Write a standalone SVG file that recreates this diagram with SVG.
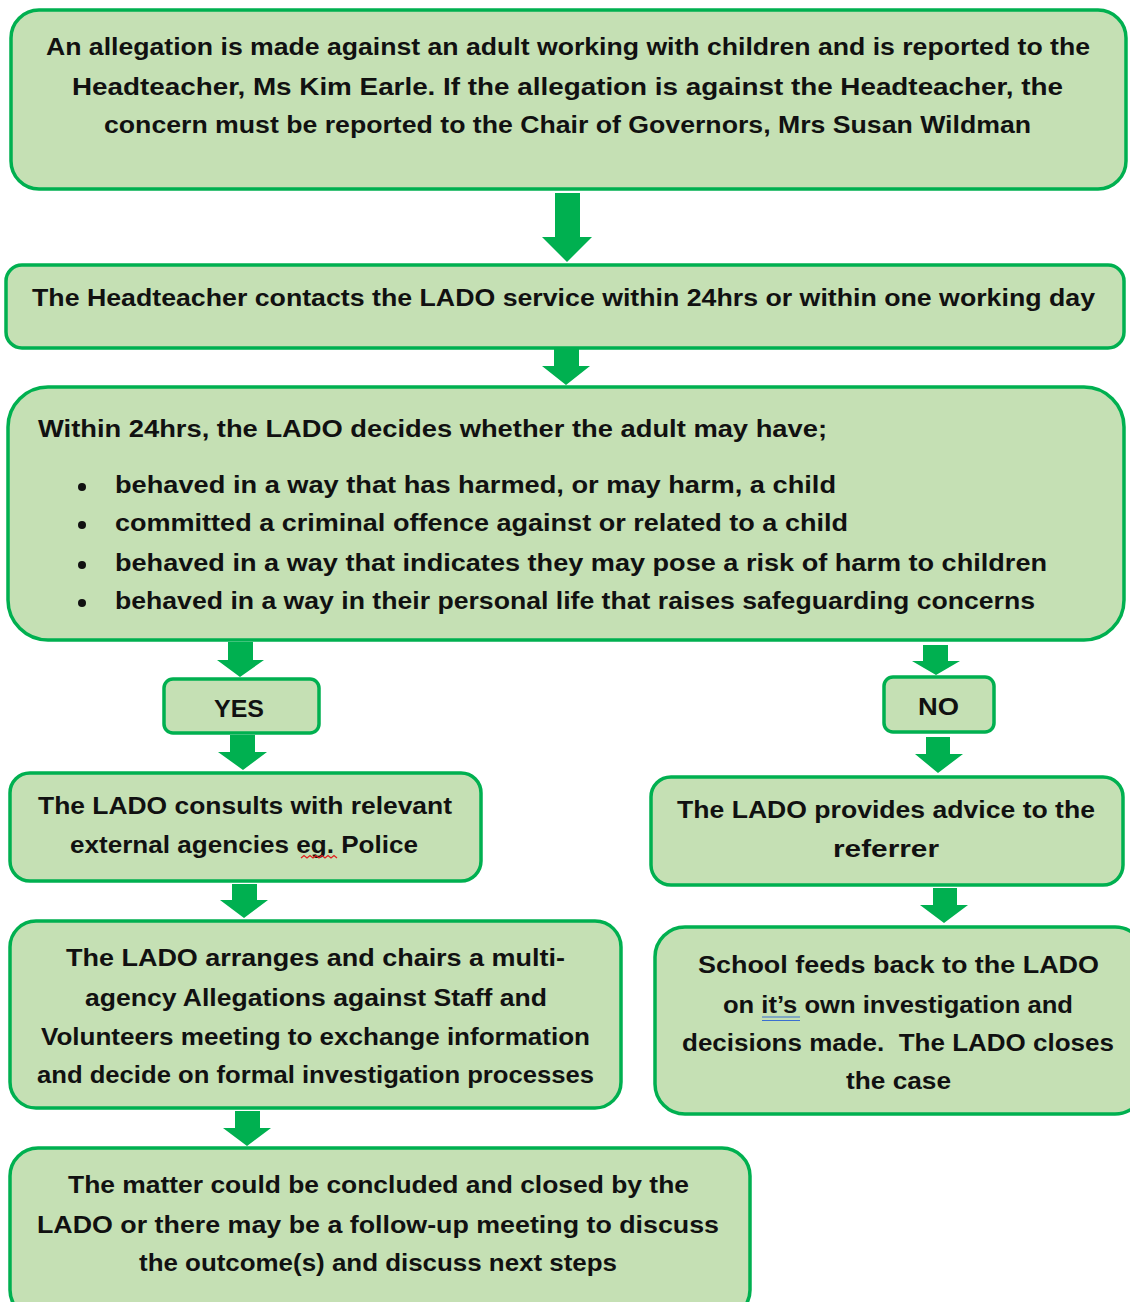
<svg xmlns="http://www.w3.org/2000/svg" width="1130" height="1302" viewBox="0 0 1130 1302">
<style>
.box{fill:#C5E0B4;stroke:#00B050;stroke-width:3.5}
.t{font-family:"Liberation Sans",Arial,sans-serif;font-size:23px;font-weight:bold;fill:#111}
.arr{fill:#00B050}
.dot{fill:#111}
</style>
<rect width="1130" height="1302" fill="#fff"/>
<g id="connectors">
<polygon class="arr" points="555,193 580,193 580,237 592,237 567,262 542,237 555,237"/>
<polygon class="arr" points="554,349 579,349 579,366 590,366 566,385 542,366 554,366"/>
<polygon class="arr" points="228,642 253,642 253,660 264,660 240,677 217,660 228,660"/>
<polygon class="arr" points="230,735 255,735 255,752 267,752 243,770 218,752 230,752"/>
<polygon class="arr" points="232,884 257,884 257,900 268,900 244,918 220,900 232,900"/>
<polygon class="arr" points="235,1111 260,1111 260,1128 271,1128 247,1146 223,1128 235,1128"/>
<polygon class="arr" points="923,645 948,645 948,661 960,661 936,675 912,661 923,661"/>
<polygon class="arr" points="926,737 950,737 950,754 963,754 938,773 915,754 926,754"/>
<polygon class="arr" points="933,888 957,888 957,905 968,905 944,923 920,905 933,905"/>
</g>
<g id="n1">
<rect class="box" x="11" y="10" width="1115" height="179" rx="28"/>
<text class="t" x="46" y="55" textLength="1044" lengthAdjust="spacingAndGlyphs">An allegation is made against an adult working with children and is reported to the</text>
<text class="t" x="72" y="95" textLength="991" lengthAdjust="spacingAndGlyphs">Headteacher, Ms Kim Earle. If the allegation is against the Headteacher, the</text>
<text class="t" x="104" y="133" textLength="927" lengthAdjust="spacingAndGlyphs">concern must be reported to the Chair of Governors, Mrs Susan Wildman</text>
</g>
<g id="n2">
<rect class="box" x="6" y="265" width="1118" height="83" rx="16"/>
<text class="t" x="32" y="306" textLength="1063" lengthAdjust="spacingAndGlyphs">The Headteacher contacts the LADO service within 24hrs or within one working day</text>
</g>
<g id="n3">
<rect class="box" x="8" y="387" width="1116" height="253" rx="40"/>
<text class="t" x="38" y="437" textLength="789" lengthAdjust="spacingAndGlyphs">Within 24hrs, the LADO decides whether the adult may have;</text>
<circle class="dot" cx="82" cy="487" r="4"/>
<circle class="dot" cx="82" cy="525" r="4"/>
<circle class="dot" cx="82" cy="565" r="4"/>
<circle class="dot" cx="82" cy="603" r="4"/>
<text class="t" x="115" y="493" textLength="721" lengthAdjust="spacingAndGlyphs">behaved in a way that has harmed, or may harm, a child</text>
<text class="t" x="115" y="531" textLength="733" lengthAdjust="spacingAndGlyphs">committed a criminal offence against or related to a child</text>
<text class="t" x="115" y="571" textLength="932" lengthAdjust="spacingAndGlyphs">behaved in a way that indicates they may pose a risk of harm to children</text>
<text class="t" x="115" y="609" textLength="920" lengthAdjust="spacingAndGlyphs">behaved in a way in their personal life that raises safeguarding concerns</text>
</g>
<g id="yes">
<rect class="box" x="164" y="679" width="155" height="54" rx="9"/>
<text class="t" x="214" y="717" textLength="50" lengthAdjust="spacingAndGlyphs">YES</text>
</g>
<g id="no">
<rect class="box" x="884" y="677" width="110" height="55" rx="9"/>
<text class="t" x="918" y="715" textLength="41" lengthAdjust="spacingAndGlyphs">NO</text>
</g>
<g id="consult">
<rect class="box" x="10" y="773" width="471" height="108" rx="20"/>
<text class="t" x="38" y="814" textLength="414" lengthAdjust="spacingAndGlyphs">The LADO consults with relevant</text>
<text class="t" x="70" y="853" textLength="348" lengthAdjust="spacingAndGlyphs">external agencies eg. Police</text>
<path d="M301,858 l3,-2.5 l3,2.5 l3,-2.5 l3,2.5 l3,-2.5 l3,2.5 l3,-2.5 l3,2.5 l3,-2.5 l3,2.5 l3,-2.5 l3,2.5" fill="none" stroke="#e02020" stroke-width="1.3"/>
</g>
<g id="advice">
<rect class="box" x="651" y="777" width="472" height="108" rx="20"/>
<text class="t" x="677" y="818" textLength="418" lengthAdjust="spacingAndGlyphs">The LADO provides advice to the</text>
<text class="t" x="833" y="857" textLength="106" lengthAdjust="spacingAndGlyphs">referrer</text>
</g>
<g id="arranges">
<rect class="box" x="10" y="921" width="611" height="187" rx="26"/>
<text class="t" x="66" y="966" textLength="499" lengthAdjust="spacingAndGlyphs">The LADO arranges and chairs a multi-</text>
<text class="t" x="85" y="1006" textLength="462" lengthAdjust="spacingAndGlyphs">agency Allegations against Staff and</text>
<text class="t" x="41" y="1045" textLength="549" lengthAdjust="spacingAndGlyphs">Volunteers meeting to exchange information</text>
<text class="t" x="37" y="1083" textLength="557" lengthAdjust="spacingAndGlyphs">and decide on formal investigation processes</text>
</g>
<g id="school">
<rect class="box" x="655" y="927" width="490" height="187" rx="30"/>
<text class="t" x="698" y="973" textLength="401" lengthAdjust="spacingAndGlyphs">School feeds back to the LADO</text>
<text class="t" x="723" y="1013" textLength="350" lengthAdjust="spacingAndGlyphs">on it’s own investigation and</text>
<text class="t" x="682" y="1051" textLength="432" lengthAdjust="spacingAndGlyphs" style="white-space:pre">decisions made.  The LADO closes</text>
<text class="t" x="846" y="1089" textLength="105" lengthAdjust="spacingAndGlyphs">the case</text>
<path d="M762,1017 H800 M762,1020.5 H800" stroke="#3a6fd0" stroke-width="1.2"/>
</g>
<g id="matter">
<rect class="box" x="10" y="1148" width="740" height="170" rx="28"/>
<text class="t" x="68" y="1193" textLength="621" lengthAdjust="spacingAndGlyphs">The matter could be concluded and closed by the</text>
<text class="t" x="37" y="1233" textLength="682" lengthAdjust="spacingAndGlyphs">LADO or there may be a follow-up meeting to discuss</text>
<text class="t" x="139" y="1271" textLength="478" lengthAdjust="spacingAndGlyphs">the outcome(s) and discuss next steps</text>
</g>
</svg>
